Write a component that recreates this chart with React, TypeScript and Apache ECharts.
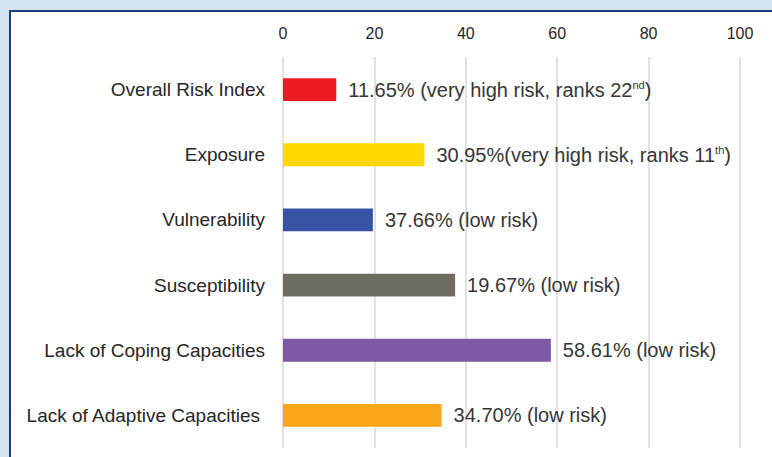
import React, { useEffect, useRef } from "react";
import * as echarts from "echarts";

const categories = [
  "Overall Risk Index",
  "Exposure",
  "Vulnerability",
  "Susceptibility",
  "Lack of Coping Capacities",
  "Lack of Adaptive Capacities",
];
const barValues = [11.65, 30.95, 19.67, 37.66, 58.61, 34.7];
const valueLabels = [
  "11.65% (very high risk, ranks 22{sup|nd})",
  "30.95%(very high risk, ranks 11{sup|th})",
  "37.66% (low risk)",
  "19.67% (low risk)",
  "58.61% (low risk)",
  "34.70% (low risk)",
];
const barColors = ["#ed1c24", "#ffd800", "#3953a4", "#6e6c5e", "#8059a6", "#f9a61b"];
const xMin = 0;
const xMax = 100;
const xStep = 20;

export default function App() {
  const ref = useRef<HTMLDivElement>(null);
  useEffect(() => {
    if (!ref.current) return;
    const chart = echarts.init(ref.current, null, { renderer: "svg" });
    const font = "'Liberation Sans', Arial, sans-serif";
    chart.setOption({
      animation: false,
      backgroundColor: "#d4e3f0",
      graphic: [
        {
          type: "rect",
          shape: { x: 10, y: 11, width: 800, height: 500 },
          style: { fill: "#ffffff", stroke: "#1f3d7a", lineWidth: 2 },
          z: -10,
          silent: true,
        },
      ],
      grid: { left: 283, right: 32, top: 57, bottom: 9, containLabel: false },
      xAxis: {
        type: "value",
        position: "top",
        min: xMin,
        max: xMax,
        interval: xStep,
        axisLine: { show: false },
        axisTick: { show: false },
        axisLabel: { color: "#262626", fontSize: 16, fontFamily: font, margin: 16 },
        splitLine: { lineStyle: { color: "#d9d9d9", width: 1.5 } },
      },
      yAxis: {
        type: "category",
        inverse: true,
        data: categories,
        axisLine: { show: false },
        axisTick: { show: false },
        axisLabel: {
          color: "#262626",
          fontSize: 19,
          fontFamily: font,
          margin: 18,
          formatter: (v: string, i: number) =>
            i === categories.length - 1 ? `{pad|${v}}` : v,
          rich: {
            pad: {
              color: "#262626",
              fontSize: 19,
              fontFamily: font,
              padding: [0, 5, 0, 0],
            },
          },
        },
      },
      series: [
        {
          type: "bar",
          barWidth: "35%",
          data: barValues.map((v, i) => ({
            value: v,
            itemStyle: { color: barColors[i] },
            label: { formatter: valueLabels[i] },
          })),
          label: {
            show: true,
            position: "right",
            distance: 12,
            color: "#363636",
            fontSize: 20,
            fontFamily: font,
            rich: {
              sup: {
                fontSize: 11,
                fontFamily: font,
                color: "#363636",
                verticalAlign: "top",
                padding: [0, 0, 9, 0],
              },
            },
          },
        },
      ],
    });
    return () => chart.dispose();
  }, []);
  return (
    <div
      ref={ref}
      style={{ position: "fixed", left: 0, top: 0, width: 772, height: 457 }}
    />
  );
}
